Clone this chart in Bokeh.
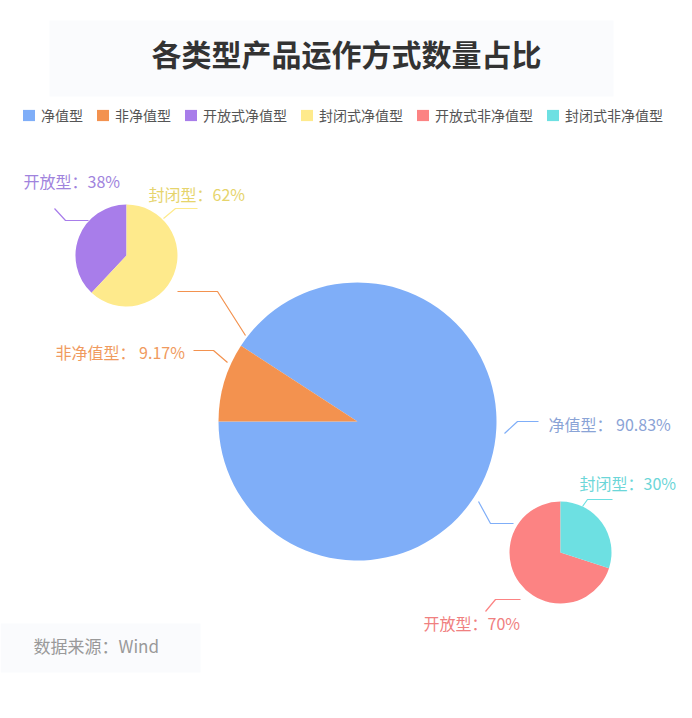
import numpy as np
from bokeh.plotting import figure
from bokeh.models import Range1d, Legend, LegendItem, BoxAnnotation
from bokeh.core.properties import value
from bokeh.embed import file_html
from bokeh.resources import INLINE

# ---------------- data ----------------
title_text = "各类型产品运作方式数量占比"
source_text = "数据来源：Wind"

main_cats = ["净值型", "非净值型"]
main_vals = [90.83, 9.17]

nav_cats = ["开放式净值型", "封闭式净值型"]        # split of 净值型
nav_vals = [38, 62]

nonnav_cats = ["开放式非净值型", "封闭式非净值型"]  # split of 非净值型
nonnav_vals = [70, 30]

short_names = ["开放型", "封闭型"]

# ---------------- styles / layout ----------------
C_MAIN = ["#7FAEF8", "#F3924F"]
C_NAV = ["#A87DEA", "#FEEA8C"]
C_NONNAV = ["#FC8383", "#6DE0E2"]
T_MAIN = ["#8AA3D6", "#F09A5E"]
T_NAV = ["#A083DD", "#E6D46C"]
T_NONNAV = ["#F08080", "#6CD6D8"]

FONT_NAME = "Noto Sans CJK SC"
FONT = value(FONT_NAME)
W, H = 676, 702
IMG_H = 718


def Y(y_img):
    return IMG_H - y_img


p = figure(width=W, height=H, output_backend="svg", toolbar_location=None,
           x_range=Range1d(0, W), y_range=Range1d(Y(H), Y(0)),
           min_border=0, background_fill_color="white", border_fill_color="white")
p.axis.visible = False
p.grid.visible = False
p.outline_line_color = None

# faint background panels
p.add_layout(BoxAnnotation(left=49, right=613, bottom=Y(96), top=Y(20),
                           fill_color="#FAFBFD", fill_alpha=1.0, line_color=None, level="underlay"))
p.add_layout(BoxAnnotation(left=0, right=200, bottom=Y(672), top=Y(623),
                           fill_color="#FAFBFD", fill_alpha=1.0, line_color=None, level="underlay"))


def pie(cx, cy, r, vals, colors, start_deg):
    v = np.asarray(vals, dtype=float)
    frac = v / v.sum()
    ends = np.deg2rad(start_deg) + 2 * np.pi * np.cumsum(frac)
    starts = np.concatenate([[np.deg2rad(start_deg)], ends[:-1]])
    return p.wedge(x=[cx] * len(v), y=[cy] * len(v), radius=r,
                   start_angle=list(starts), end_angle=list(ends), direction="anticlock",
                   fill_color=colors, line_color=None)


r_main = pie(357, Y(421), 139, main_vals, C_MAIN, 180)
r_nav = pie(126, Y(255), 51, nav_vals, C_NAV, 90)
r_non = pie(560, Y(552), 51, nonnav_vals, C_NONNAV, 90)


def leader(pts, color):
    xs = [a for a, b in pts]
    ys = [Y(b) for a, b in pts]
    p.line(xs, ys, line_color=color, line_width=1.2)


def label(x, y, txt, color, align="left"):
    p.text(x=[x], y=[Y(y)], text=[txt], text_font=FONT, text_font_size="16px",
           text_color=color, text_align=align, text_baseline="middle")


# big pie labels
leader([(193, 350), (213, 350), (227, 362)], C_MAIN[1])
leader([(177, 291), (217, 291), (245, 335)], C_MAIN[1])
label(55, 351, f"{main_cats[1]}： {main_vals[1]:.2f}%", T_MAIN[1])
leader([(504, 433), (517, 421), (538, 421)], C_MAIN[0])
leader([(478, 501), (490, 523), (513, 523)], C_MAIN[0])
label(548, 423, f"{main_cats[0]}： {main_vals[0]:.2f}%", T_MAIN[0])

# 净值型 split labels
leader([(54, 208), (65, 220), (88, 220)], C_NAV[0])
label(23, 180, f"{short_names[0]}：{nav_vals[0]}%", T_NAV[0])
leader([(163, 218), (175, 208), (197, 208)], C_NAV[1])
label(148, 193, f"{short_names[1]}：{nav_vals[1]}%", T_NAV[1])

# 非净值型 split labels
leader([(582, 506), (587, 499), (612, 499)], C_NONNAV[1])
label(579, 482, f"{short_names[1]}：{nonnav_vals[1]}%", T_NONNAV[1])
leader([(485, 611), (495, 599), (520, 599)], C_NONNAV[0])
label(423, 622, f"{short_names[0]}：{nonnav_vals[0]}%", T_NONNAV[0])

# title
p.text(x=[346], y=[Y(52)], text=[title_text], text_font=FONT, text_font_size="30px",
       text_font_style="bold", text_color="#333333", text_align="center", text_baseline="middle")

# source
p.text(x=[33], y=[Y(645)], text=[source_text], text_font=FONT, text_font_size="17px",
       text_color="#999999", text_align="left", text_baseline="middle")

# legend
items = []
for i, c in enumerate(main_cats):
    items.append(LegendItem(label=c, renderers=[r_main], index=i))
for i, c in enumerate(nav_cats):
    items.append(LegendItem(label=c, renderers=[r_nav], index=i))
for i, c in enumerate(nonnav_cats):
    items.append(LegendItem(label=c, renderers=[r_non], index=i))

legend = Legend(items=items, orientation="horizontal", location=(21, H - 125),
                glyph_width=15, glyph_height=14, label_standoff=5, spacing=12,
                padding=0, margin=0, label_height=14,
                label_text_font=FONT_NAME, label_text_font_size="14px", label_text_color="#555555",
                label_text_baseline="middle",
                background_fill_alpha=0, border_line_alpha=0)
p.add_layout(legend, "center")

open("out.html", "w").write(file_html(p, INLINE))
